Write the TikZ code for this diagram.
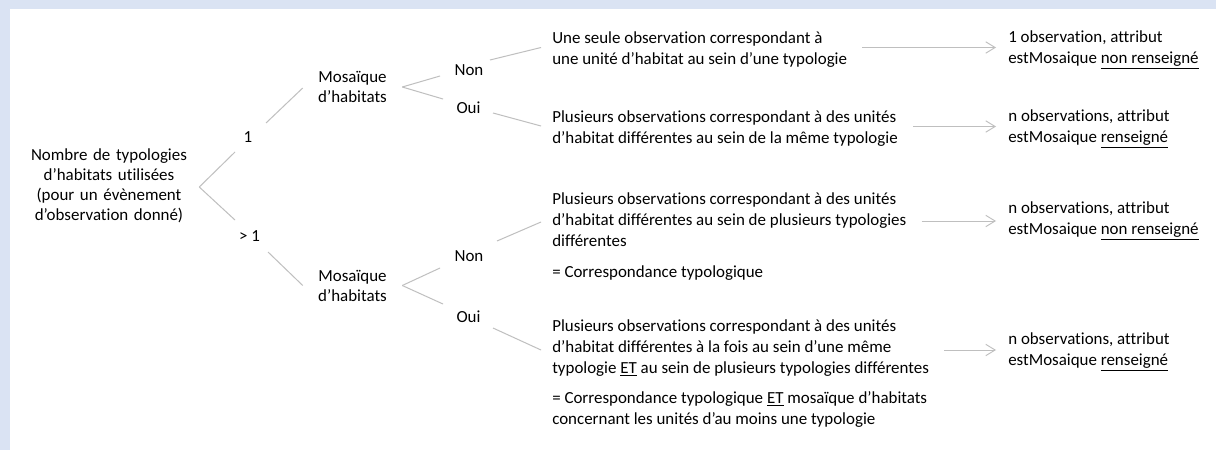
\documentclass[tikz,border=0pt]{standalone}
\usepackage{fontspec}
\setmainfont{Carlito}[Ligatures=NoCommon]
\usetikzlibrary{calc,arrows.meta}
\definecolor{bgblue}{HTML}{DAE3F3}
\definecolor{linegray}{HTML}{BFBFBF}
\tikzset{
  conn/.style={draw=linegray, line width=0.75pt},
  arr/.style={conn, -{Straight Barb[length=7pt,width=8.5pt,line width=0.7pt]}},
  txt/.style={inner sep=0pt, font=\fontsize{12.7pt}{15.75pt}\selectfont, align=left, anchor=west, yshift=-1.5pt},
  ctxt/.style={inner sep=0pt, font=\fontsize{12.7pt}{15pt}\selectfont, align=center},
}
\begin{document}
\begin{tikzpicture}[x=0.75pt,y=-0.75pt]
\useasboundingbox (0,0) rectangle (1216,450);
\fill[bgblue] (0,0) rectangle (1216,450);
\fill[white] (10,9) rectangle (1216,450);

% nodes
\node[ctxt, text width=135pt] (root) at (109,185.5) {Nombre de typologies\\d’habitats utilisées\\(pour un évènement\\d’observation donné)};
\node[ctxt] (one) at (248,137.5) {1};
\node[ctxt] (gt) at (249.5,236.5) {> 1};
\node[ctxt, text width=74.25pt] (m1) at (352.5,87) {Mosaïque\\d’habitats};
\node[ctxt, text width=74.25pt] (m2) at (352.5,285.5) {Mosaïque\\d’habitats};
\node[ctxt] (non1) at (469,70) {Non};
\node[ctxt] (oui1) at (468.5,108) {Oui};
\node[ctxt] (non2) at (469,256) {Non};
\node[ctxt] (oui2) at (468.5,317) {Oui};

\node[txt] (t1) at (552,47.5) {Une seule observation correspondant à\\une unité d’habitat au sein d’une typologie};
\node[txt] (t2) at (552,127) {Plusieurs observations correspondant à des unités\\d’habitat différentes au sein de la même typologie};
\node[txt] (t3) at (552,218) {Plusieurs observations correspondant à des unités\\d’habitat différentes au sein de plusieurs typologies\\différentes};
\node[txt] (t3n) at (552,271) {= Correspondance typologique};
\node[txt] (t4) at (552,346) {Plusieurs observations correspondant à des unités\\d’habitat différentes à la fois au sein d’une même\\typologie \underline{ET} au sein de plusieurs typologies différentes};
\node[txt] (t4n) at (552,407) {= Correspondance typologique \underline{ET} mosaïque d’habitats\\concernant les unités d’au moins une typologie};

\node[txt] (r1) at (1008,47.5) {1 observation, attribut\\estMosaique \underline{non renseigné}};
\node[txt] (r2) at (1008,126.5) {n observations, attribut\\estMosaique \underline{renseigné}};
\node[txt] (r3) at (1008,219) {n observations, attribut\\estMosaique \underline{non renseigné}};
\node[txt] (r4) at (1008,350) {n observations, attribut\\estMosaique \underline{renseigné}};

% tree connectors
\draw[conn] ($(root.east)+(0,1.5)$) -- ($(one)+(-13,14.5)$);
\draw[conn] ($(root.east)+(0,1.5)$) -- ($(gt)+(-14.5,-16.5)$);
\draw[conn] ($(one)+(18,-14.5)$) -- ($(m1.west)+(0,1)$);
\draw[conn] ($(gt)+(18.5,15.5)$) -- (m2.west);
\draw[conn] (m1.east) -- ($(non1)+(-29,6)$);
\draw[conn] (m1.east) -- ($(oui1)+(-25.5,-9)$);
\draw[conn] (m2.east) -- ($(non2)+(-29,12)$);
\draw[conn] (m2.east) -- ($(oui2)+(-25.5,-13)$);
\draw[conn] ($(non1)+(21,-10)$) -- ($(t1.west)+(-11,-2)$);
\draw[conn] ($(oui1)+(24.5,5)$) -- ($(t2.west)+(-11,-3)$);
\draw[conn] ($(non2)+(28,-15)$) -- ($(t3.west)+(-11,2)$);
\draw[conn] ($(oui2)+(24.5,11)$) -- ($(t4.west)+(-11,2)$);

% result arrows
\draw[arr] ($(t1.east|-r1.west)+(15,-2)$) -- ($(r1.west)+(-12,-2)$);
\draw[arr] ($(t2.east|-r2.west)+(15,-2)$) -- ($(r2.west)+(-12,-2)$);
\draw[arr] ($(t3.east|-r3.west)+(15,0)$) -- ($(r3.west)+(-12,0)$);
\draw[arr] ($(t4.east|-r4.west)+(15,-2)$) -- ($(r4.west)+(-12,-2)$);
\end{tikzpicture}
\end{document}
